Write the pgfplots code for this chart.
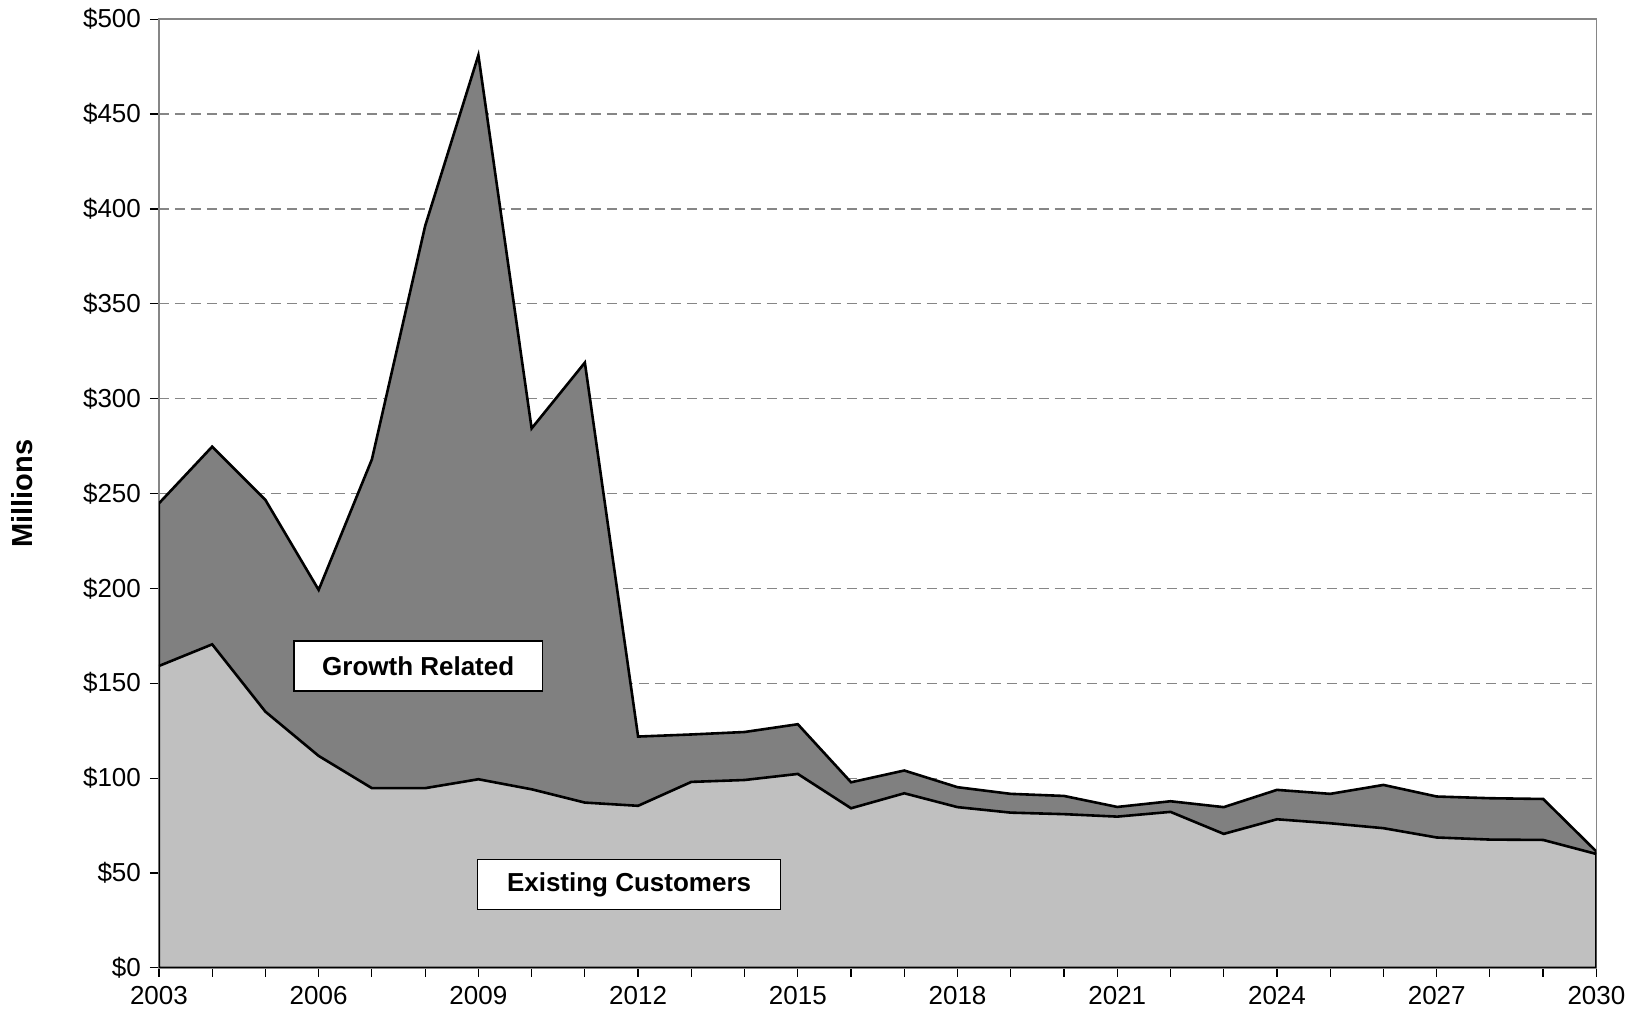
\documentclass[border=0pt]{standalone}
\usepackage{fontspec}
\setmainfont{Liberation Sans}
\usepackage{pgfplots}
\pgfplotsset{compat=1.18}
\definecolor{darkarea}{HTML}{808080}
\definecolor{lightarea}{HTML}{C0C0C0}
\definecolor{frame}{HTML}{868686}
\begin{document}
\fontsize{13}{15.6}\selectfont
\begin{tikzpicture}
\begin{axis}[
  scale only axis, width=719pt, height=474.5pt,
  xmin=2003, xmax=2030, ymin=0, ymax=500,
  xtick={2003,2006,...,2030},
  minor xtick={2003,2004,...,2030},
  ytick={0,50,...,500},
  /pgf/number format/assume math mode=true,
  /pgf/number format/1000 sep={},
  yticklabel={\$\pgfmathprintnumber{\tick}},
  tick pos=left, tick align=outside, major tick length=4.5pt, minor tick length=4.5pt,
  tick style={black, line width=0.6pt},
  axis line style={frame, line width=0.8pt},
  ymajorgrids, grid style={frame, line width=0.6pt, dash pattern=on 5pt off 3pt},
  xminorgrids=false,
  ylabel={\fontsize{14.5}{17}\selectfont\bfseries Millions},
  ylabel style={at={(axis description cs:-0.0953,0.5)}, anchor=center},
  ticklabel style={font=\fontsize{13}{15.6}\selectfont},
  every axis plot/.append style={line width=1.3pt, draw=black},
]
% Total (Existing + Growth Related)
\addplot[fill=darkarea] coordinates {
(2003,244.8) (2004,274.7) (2005,246.6) (2006,199.2) (2007,268) (2008,391)
(2009,481) (2010,284.3) (2011,319) (2012,121.9) (2013,123) (2014,124.3)
(2015,128.4) (2016,97.8) (2017,104) (2018,95.2) (2019,91.7) (2020,90.6)
(2021,84.8) (2022,87.8) (2023,84.7) (2024,93.8) (2025,91.7) (2026,96.4)
(2027,90.3) (2028,89.4) (2029,89) (2030,61.3)
} \closedcycle;
% Existing Customers
\addplot[fill=lightarea] coordinates {
(2003,159.1) (2004,170.5) (2005,135) (2006,111.7) (2007,94.7) (2008,94.7)
(2009,99.4) (2010,94.1) (2011,87.1) (2012,85.4) (2013,98) (2014,99)
(2015,102.2) (2016,84.1) (2017,92) (2018,84.7) (2019,81.8) (2020,81)
(2021,79.7) (2022,82.2) (2023,70.6) (2024,78.3) (2025,76.2) (2026,73.6)
(2027,68.7) (2028,67.6) (2029,67.4) (2030,60)
} \closedcycle;
\node[draw=black, fill=white, line width=0.8pt, font=\bfseries, minimum width=124.5pt, minimum height=25pt, inner sep=0pt] at (axis cs:2007.87,159) {Growth Related};
\node[draw=black, fill=white, line width=0.8pt, font=\bfseries, minimum width=151.6pt, minimum height=25pt, inner sep=0pt] at (axis cs:2011.83,43.9) {Existing Customers};
\end{axis}
\path ([xshift=-79.5pt,yshift=-28pt]current axis.south west) rectangle ([xshift=18.5pt,yshift=9.5pt]current axis.north east);
\end{tikzpicture}
\end{document}
